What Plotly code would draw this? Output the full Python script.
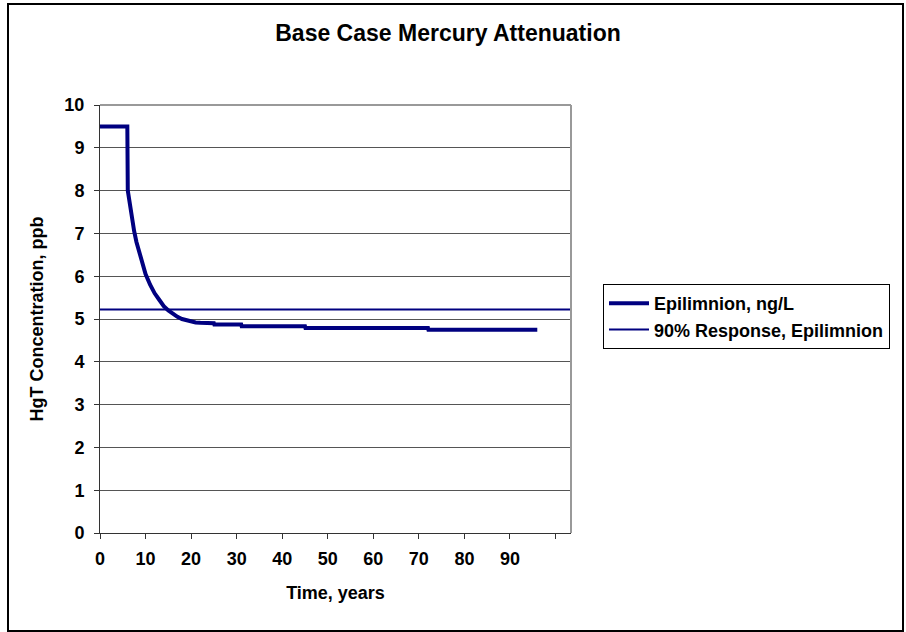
import plotly.graph_objects as go

# Data
time_years = [0, 6, 6.1, 6.5, 7, 7.5, 8, 9, 10, 11, 12, 13, 14, 15, 16, 17, 18, 19, 20, 21, 22,
              25, 25.1, 31, 31.1, 45, 45.1, 72, 72.1, 96]
epilimnion = [9.5, 9.5, 8.0, 7.7, 7.35, 7.05, 6.8, 6.4, 6.05, 5.8, 5.6, 5.45, 5.3, 5.2, 5.12, 5.05,
              5.0, 4.97, 4.94, 4.92, 4.91, 4.90, 4.87, 4.87, 4.83, 4.83, 4.79, 4.79, 4.75, 4.75]
response_x = [0, 103.4]
response_y = [5.22, 5.22]
x_ticks = [0, 10, 20, 30, 40, 50, 60, 70, 80, 90, 100]
x_ticktext = ["0", "10", "20", "30", "40", "50", "60", "70", "80", "90", ""]
y_ticks = [0, 1, 2, 3, 4, 5, 6, 7, 8, 9, 10]

FONT = "Liberation Sans, Arial, sans-serif"
NAVY = "#000080"

fig = go.Figure()
fig.add_trace(go.Scatter(x=time_years, y=epilimnion, mode="lines", name="Epilimnion, ng/L",
                         line=dict(color=NAVY, width=4)))
fig.add_trace(go.Scatter(x=response_x, y=response_y, mode="lines", name="90% Response, Epilimnion",
                         line=dict(color=NAVY, width=2)))

L, R, T, B = 100, 571, 105, 533
W, H = 906, 632
pw, ph = R - L, B - T
def px(x): return (x - L) / pw
def py(y): return (B - y) / ph

bold18 = dict(size=18, family=FONT, weight="bold", color="black")

fig.update_layout(
    width=W, height=H,
    margin=dict(l=L, r=W - R, t=T, b=H - B),
    paper_bgcolor="white", plot_bgcolor="white",
    font=dict(family=FONT, size=18, color="black"),
    title=dict(text="Base Case Mercury Attenuation", x=px(448), xanchor="center",
               xref="paper", y=1 - 33 / H, yanchor="middle",
               font=dict(size=23, family=FONT, weight="bold", color="black")),
    showlegend=True,
    legend=dict(x=px(603), y=py(284), xanchor="left", yanchor="top",
                bordercolor="black", borderwidth=1, bgcolor="white",
                font=bold18, itemwidth=40, tracegroupgap=0),
    xaxis=dict(range=[0, 103.4], tickvals=x_ticks, ticktext=x_ticktext,
               ticks="outside", ticklen=5, tickcolor="#333", showgrid=False,
               showline=True, linecolor="#333", linewidth=1, zeroline=False,
               tickfont=bold18, ticklabelstandoff=4,
               title=dict(text="Time, years", font=bold18, standoff=18)),
    yaxis=dict(range=[0, 10], tickvals=y_ticks, ticks="outside", ticklen=5, tickcolor="#333",
               showgrid=True, gridcolor="#555", gridwidth=1,
               showline=True, linecolor="#333", linewidth=1, zeroline=False,
               tickfont=bold18, ticklabelstandoff=6,
               title=dict(text="HgT Concentration, ppb", font=bold18, standoff=16)),
    shapes=[
        dict(type="line", xref="paper", yref="paper", x0=0, x1=1, y0=1, y1=1,
             line=dict(color="#999", width=2)),
        dict(type="line", xref="paper", yref="paper", x0=1, x1=1, y0=0, y1=1,
             line=dict(color="#999", width=2)),
        dict(type="rect", xref="paper", yref="paper", x0=px(8), x1=px(903), y0=py(631), y1=py(4),
             line=dict(color="black", width=2), layer="below"),
    ],
)

fig.write_html("out.html", config={"displayModeBar": False},
               post_script="document.body.style.margin='0';")
